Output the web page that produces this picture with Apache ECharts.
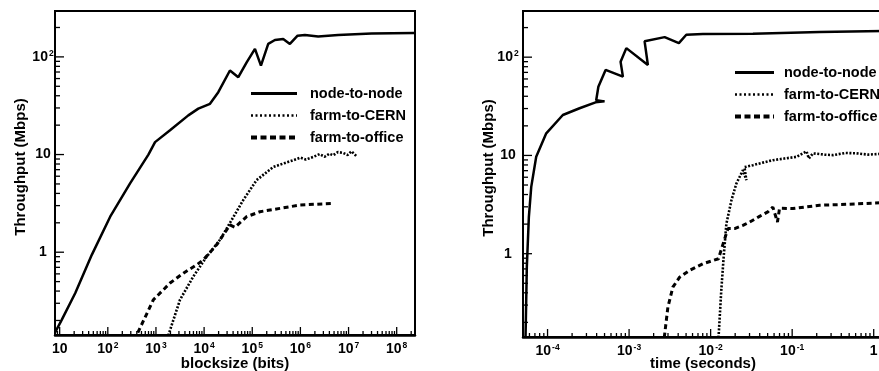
<!DOCTYPE html>
<html>
<head>
<meta charset="utf-8">
<script src="https://cdn.jsdelivr.net/npm/echarts@6/dist/echarts.min.js"></script>
<style>
  html, body { margin: 0; padding: 0; background: #fff; overflow: hidden; }
  #chart { width: 900px; height: 371px; }
</style>
</head>
<body>
<div id="chart"></div>
<script>
// Network throughput measured against block size (left) and against transfer time (right).
const seriesNames = ['node-to-node', 'farm-to-CERN', 'farm-to-office'];

// ---- left panel: throughput (Mbps) vs blocksize (bits) ----
const nodeBlocksize = [8, 11.1, 21, 46.5, 112, 290, 697, 957, 1960, 4700, 7580, 13250, 19700, 34400, 51300, 76500, 113800, 151500, 214700, 295600, 439700, 605000, 874000, 1.24e6, 2.34e6, 6.08e6, 3.0e7, 2.3e8];
const nodeRateByBlock = [0.15, 0.204, 0.38, 0.94, 2.31, 5.06, 10, 13.4, 17.7, 25.2, 29.5, 33.1, 43.5, 72.5, 61.9, 88, 120.7, 81.5, 135.8, 149, 152.6, 135.8, 165, 167.6, 162, 167.6, 174, 175.7];

const cernBlocksize = [1800, 3160, 5970, 11300, 21400, 37400, 65000, 123000, 273000, 480000, 710000, 1.0e6, 1.3e6, 1.85e6, 2.5e6, 3.2e6, 4.0e6, 4.8e6, 6.0e6, 7.7e6, 9.5e6, 1.15e7, 1.47e7];
const cernRateByBlock = [0.14, 0.326, 0.564, 0.9, 1.34, 2.14, 3.42, 5.47, 7.47, 8.2, 8.74, 9.3, 8.9, 9.46, 10.1, 9.5, 10.2, 9.84, 10.6, 10.4, 9.9, 10.8, 9.6];

const officeBlocksize = [420, 884, 1964, 3710, 7020, 9620, 18200, 34400, 43700, 76500, 145000, 376000, 977000, 4.79e6];
const officeRateByBlock = [0.15, 0.326, 0.483, 0.61, 0.742, 0.834, 1.19, 1.9, 1.8, 2.31, 2.6, 2.81, 3.04, 3.16];

// ---- right panel: throughput (Mbps) vs time (seconds) ----
const nodeTime = [5.37e-5, 5.57e-5, 5.9e-5, 6.31e-5, 7.26e-5, 9.64e-5, 1.54e-4, 2.47e-4, 3.88e-4, 5.0e-4, 3.95e-4, 4.2e-4, 5.15e-4, 8.4e-4, 7.87e-4, 9.25e-4, 1.70e-3, 1.55e-3, 2.73e-3, 4.08e-3, 5.03e-3, 8.05e-3, 0.033, 0.217, 1.3];
const nodeRateByTime = [0.14, 0.73, 2.36, 4.79, 9.68, 16.8, 25.8, 30.2, 34.7, 35.5, 36.5, 50, 74.2, 63.4, 89.6, 123.6, 83.4, 145, 160, 139, 169, 171.6, 173, 180, 185];

const cernTime = [0.0125, 0.0135, 0.01445, 0.0156, 0.018, 0.0207, 0.0249, 0.0274, 0.026, 0.033, 0.045, 0.058, 0.08, 0.113, 0.15, 0.16, 0.18, 0.25, 0.317, 0.45, 0.614, 0.85, 1.3];
const cernRateByTime = [0.14, 0.42, 0.923, 2.02, 3.5, 5.18, 7.08, 5.6, 7.6, 7.96, 8.5, 8.95, 9.3, 9.68, 11.0, 9.3, 10.5, 10.2, 10.07, 10.6, 10.5, 10.2, 10.4];

const officeTime = [2.7e-3, 2.99e-3, 3.44e-3, 4.17e-3, 5.52e-3, 8.05e-3, 0.0125, 0.0135, 0.0152, 0.0163, 0.0197, 0.0249, 0.0301, 0.0398, 0.0503, 0.058, 0.066, 0.07, 0.102, 0.217, 0.462, 1.3];
const officeRateByTime = [0.14, 0.285, 0.456, 0.577, 0.676, 0.79, 0.889, 1.1, 1.5, 1.8, 1.8, 1.94, 2.1, 2.4, 2.66, 2.98, 2.1, 2.9, 2.88, 3.11, 3.18, 3.3];

// axis ranges
const blockRange = [8, 2.4e8];
const timeRange = [5e-5, 1.3];
const rateRange = [0.142, 295];

const FONT = "'Liberation Sans', Arial, Helvetica, sans-serif";

function zip(xs, ys) { return xs.map((x, i) => [x, ys[i]]); }

// decade ticks (major) and 2..9 sub-ticks (minor) inside a range
function logTicks(range) {
  const out = [];
  const lo = Math.floor(Math.log10(range[0]));
  const hi = Math.ceil(Math.log10(range[1]));
  for (let e = lo; e <= hi; e++) {
    for (let m = 1; m <= 9; m++) {
      const v = m * Math.pow(10, e);
      if (v > range[0] * 1.0001 && v < range[1] * 0.9999) out.push([v, m === 1 ? 1 : 0]);
    }
  }
  return out;
}

// "10" with a raised exponent
function powerLabel(v) {
  const lg = Math.log10(v);
  const e = Math.round(lg);
  if (Math.abs(lg - e) > 1e-6) return '';
  if (e === 0) return '{b|1}';
  if (e === 1) return '{b|10}';
  return '{b|10}{s|' + e + '}';
}

const labelRich = {
  b: { fontFamily: FONT, fontSize: 14, fontWeight: 'bold', color: '#000', lineHeight: 16 },
  s: { fontFamily: FONT, fontSize: 8.5, fontWeight: 'bold', color: '#000', lineHeight: 4, verticalAlign: 'top', padding: [0, 0, 0, 1] }
};

const nameStyle = { fontFamily: FONT, fontSize: 15, fontWeight: 'bold', color: '#000' };

function xAxisFor(gridIndex, range, name, nameGap) {
  return {
    type: 'log', logBase: 10, gridIndex, min: range[0], max: range[1], name,
    nameLocation: 'middle', nameGap, nameMoveOverlap: false, nameTextStyle: nameStyle,
    axisLine: { lineStyle: { color: '#000', width: 2.5 } },
    axisTick: { show: false }, minorTick: { show: false }, splitLine: { show: false },
    axisLabel: { formatter: powerLabel, margin: 6, rich: labelRich, color: '#000' }
  };
}

function yAxisFor(gridIndex, margin) {
  return {
    type: 'log', logBase: 10, gridIndex, min: rateRange[0], max: rateRange[1],
    name: 'Throughput (Mbps)', nameLocation: 'middle', nameGap: 27, nameMoveOverlap: false,
    nameTextStyle: Object.assign({ padding: [0, 0, 0, 12] }, nameStyle),
    axisLine: { lineStyle: { color: '#000', width: 2 } },
    axisTick: { show: false }, minorTick: { show: false }, splitLine: { show: false },
    axisLabel: { formatter: powerLabel, margin, align: 'center', rich: labelRich, color: '#000' }
  };
}

// inward tick marks placed through the axis scales
function tickSeries(gridIndex, xRange) {
  const data = [];
  logTicks(xRange).forEach(([v, major]) => data.push([v, rateRange[0], 0, major]));
  logTicks(rateRange).forEach(([v, major]) => data.push([xRange[0], v, 1, major]));
  return {
    type: 'custom', xAxisIndex: gridIndex, yAxisIndex: gridIndex, silent: true, z: 5,
    encode: { x: 0, y: 1 }, data,
    renderItem(params, api) {
      const p = api.coord([api.value(0), api.value(1)]);
      const horiz = api.value(2) === 1;
      const major = api.value(3) === 1;
      const len = horiz ? (major ? 9 : 5) : (major ? 8 : 4);
      return {
        type: 'line',
        shape: horiz ? { x1: p[0], y1: p[1], x2: p[0] + len, y2: p[1] }
                     : { x1: p[0], y1: p[1], x2: p[0], y2: p[1] - len },
        style: { stroke: '#000', lineWidth: 1.3 }
      };
    }
  };
}

const lineStyles = {
  'node-to-node': { color: '#000', width: 2.5, type: 'solid' },
  'farm-to-CERN': { color: '#000', width: 2.6, type: [2, 1.6] },
  'farm-to-office': { color: '#000', width: 3, type: [5, 3.5] }
};
const legendLineStyles = {
  'node-to-node': { color: '#000', width: 3, type: 'solid' },
  'farm-to-CERN': { color: '#000', width: 2.5, type: [2, 2.5] },
  'farm-to-office': { color: '#000', width: 4, type: [6, 3.5] }
};

function lineSeries(name, gridIndex, xs, ys) {
  return {
    type: 'line', name, xAxisIndex: gridIndex, yAxisIndex: gridIndex,
    data: zip(xs, ys), symbol: 'none', showSymbol: false, smooth: false, clip: true,
    lineStyle: lineStyles[name], itemStyle: { color: '#000' }, z: 3
  };
}

function legendFor(left, top, itemWidth, textPad) {
  return {
    left, top, orient: 'vertical', padding: 0, itemWidth, itemHeight: 12, itemGap: 7,
    selectedMode: false,
    textStyle: { fontFamily: FONT, fontSize: 14.5, fontWeight: 'bold', color: '#000', lineHeight: 12, padding: [0, 0, 0, textPad] },
    // line-only keys: the point marker is made fully transparent
    data: seriesNames.map(n => ({ name: n, lineStyle: legendLineStyles[n], itemStyle: { color: '#000', opacity: 0, borderWidth: 0 } }))
  };
}

const gridBase = { show: true, borderColor: '#000', borderWidth: 2, backgroundColor: 'transparent', containLabel: false, outerBoundsMode: 'none' };

const chart = echarts.init(document.getElementById('chart'), null, { renderer: 'canvas' });
chart.setOption({
  backgroundColor: '#fff',
  animation: false,
  grid: [
    Object.assign({ left: 55, top: 11, width: 360, height: 324 }, gridBase),
    Object.assign({ left: 523, top: 11, width: 360, height: 326 }, gridBase)
  ],
  xAxis: [xAxisFor(0, blockRange, 'blocksize (bits)', 21), xAxisFor(1, timeRange, 'time (seconds)', 19)],
  yAxis: [yAxisFor(0, 12), yAxisFor(1, 15)],
  legend: [legendFor(249, 86, 46, 8), legendFor(733, 65, 39, 5)],
  series: [
    lineSeries('node-to-node', 0, nodeBlocksize, nodeRateByBlock),
    lineSeries('farm-to-CERN', 0, cernBlocksize, cernRateByBlock),
    lineSeries('farm-to-office', 0, officeBlocksize, officeRateByBlock),
    lineSeries('node-to-node', 1, nodeTime, nodeRateByTime),
    lineSeries('farm-to-CERN', 1, cernTime, cernRateByTime),
    lineSeries('farm-to-office', 1, officeTime, officeRateByTime),
    tickSeries(0, blockRange),
    tickSeries(1, timeRange)
  ]
});
</script>
</body>
</html>
